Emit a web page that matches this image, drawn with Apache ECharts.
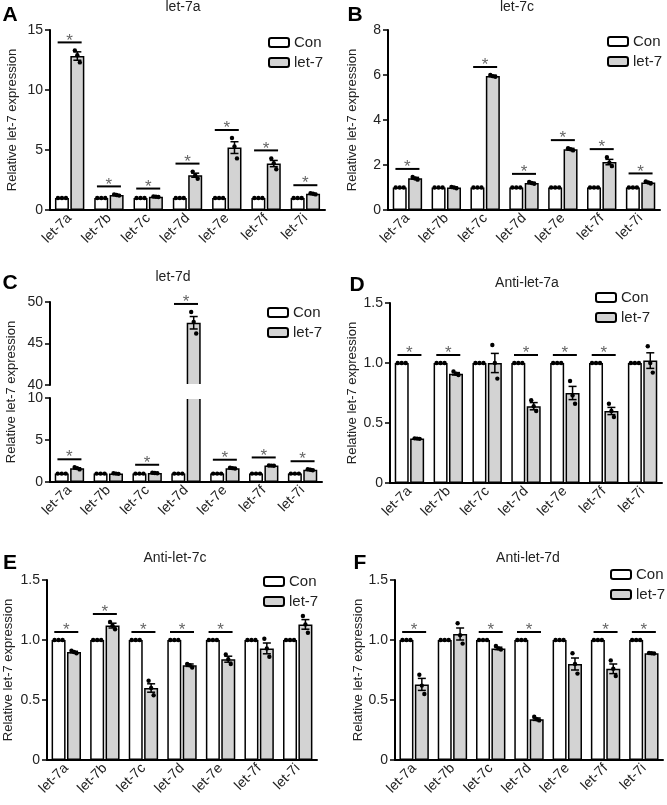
<!DOCTYPE html>
<html>
<head>
<meta charset="utf-8">
<script src="https://cdn.jsdelivr.net/npm/echarts@6/dist/echarts.min.js"></script>
<style>html,body{margin:0;padding:0;background:#fff;}#c{width:667px;height:805px;}</style>
</head>
<body>
<div id="c"></div>
<script>
// ---------- DATA ----------
const categories = ['let-7a','let-7b','let-7c','let-7d','let-7e','let-7f','let-7i'];
const seriesNames = ['Con','let-7'];
const panelTitles = ['let-7a','let-7c','let-7d','Anti-let-7a','Anti-let-7c','Anti-let-7d'];
const panelLetters = ['A','B','C','D','E','F'];
const yAxisName = 'Relative let-7 expression';

const conMean = [1,1,1,1,1,1,1];
const conPts = [[1,1,1],[1,1,1],[1,1,1],[1,1,1],[1,1,1],[1,1,1],[1,1,1]];

// Panel A
const aMean = [12.83,1.25,1.10,2.90,5.20,3.87,1.35];
const aErr  = [0.35,0.03,0.01,0.17,0.49,0.26,0.03];
const aPts  = [[13.3,12.9,12.3],[1.3,1.25,1.2],[1.12,1.1,1.08],[3.2,2.9,2.6],[6.0,5.3,4.3],[4.3,3.9,3.4],[1.4,1.35,1.3]];
const aSig  = [1,1,1,1,1,1,1];
const aTicks = [0,5,10,15];
// Panel B
const bMean = [1.41,1.00,5.96,1.20,2.70,2.13,1.22];
const bErr  = [0.04,0.02,0.03,0.03,0.04,0.12,0.03];
const bPts  = [[1.47,1.4,1.35],[1.02,1.0,0.97],[6.0,5.95,5.92],[1.25,1.2,1.17],[2.75,2.7,2.65],[2.35,2.1,1.95],[1.27,1.22,1.18]];
const bSig  = [1,0,1,1,1,1,1];
const bTicks = [0,2,4,6,8];
// Panel C (broken axis)
const cMean = [1.63,1.00,1.07,47.5,1.65,1.95,1.46];
const cErr  = [0.07,0.02,0.02,0.75,0.03,0.01,0.04];
const cPts  = [[1.75,1.65,1.5],[1.05,1.0,0.97],[1.1,1.07,1.05],[48.8,47.6,46.2],[1.7,1.65,1.6],[1.97,1.95,1.93],[1.52,1.45,1.4]];
const cSig  = [1,0,1,1,1,1,1];
const cTicksLow = [0,5,10];
const cTicksHigh = [40,45,50];
// Panel D
const dMean = [0.37,0.91,1.00,0.64,0.75,0.60,1.02];
const dErr  = [0.003,0.01,0.08,0.03,0.055,0.03,0.065];
const dPts  = [[0.372,0.37,0.368],[0.93,0.91,0.9],[1.15,1.0,0.87],[0.69,0.64,0.6],[0.85,0.73,0.66],[0.66,0.6,0.55],[1.14,1.0,0.92]];
const dSig  = [1,1,0,1,1,1,0];
const dTicks = [0,0.5,1.0,1.5];
// Panel E
const eMean = [0.90,1.12,0.60,0.79,0.84,0.93,1.13];
const eErr  = [0.006,0.02,0.035,0.01,0.025,0.045,0.04];
const ePts  = [[0.91,0.9,0.89],[1.15,1.12,1.09],[0.66,0.6,0.54],[0.8,0.79,0.77],[0.88,0.84,0.8],[1.01,0.93,0.86],[1.2,1.13,1.06]];
const eSig  = [1,1,1,1,1,0,0];
const eTicks = [0,0.5,1.0,1.5];
// Panel F
const fMean = [0.63,1.05,0.93,0.34,0.80,0.76,0.89];
const fErr  = [0.05,0.05,0.01,0.01,0.05,0.04,0.003];
const fPts  = [[0.71,0.62,0.55],[1.14,1.04,0.97],[0.95,0.93,0.92],[0.36,0.34,0.33],[0.89,0.8,0.72],[0.83,0.76,0.7],[0.892,0.89,0.888]];
const fSig  = [1,0,1,1,0,1,1];
const fTicks = [0,0.5,1.0,1.5];

// ---------- LAYOUT / STYLE ----------
const FONT = 'Liberation Sans, Arial, sans-serif';
const TXT = '#222';
const BAR_W = 14;
const BAR_OFF = 7.7;

const layouts = [
  {grid:{left:50,top:30,width:275,height:180}, nameGap:31, legend:{left:268,top:35}, title:[183,7], letter:[10,15]},
  {grid:{left:388,top:30,width:272,height:180}, nameGap:29, legend:{left:607,top:34}, title:[517,7], letter:[355,15]},
  {gridHigh:{left:50,top:302,width:272,height:83}, grid:{left:50,top:398,width:272,height:84}, legend:{left:267,top:305}, title:[173,277], letter:[10,283], nameXY:[11,392]},
  {grid:{left:390,top:303,width:272,height:180}, nameGap:31, legend:{left:595,top:290}, title:[527,283], letter:[357,285]},
  {grid:{left:47,top:580,width:270,height:180}, nameGap:32, legend:{left:263,top:574}, title:[175,558], letter:[10,563]},
  {grid:{left:395,top:580,width:268,height:180}, nameGap:30, legend:{left:610,top:567}, title:[528,558], letter:[360,563]}
];

const panels = [
  {mean:aMean, err:aErr, pts:aPts, sig:aSig, ticks:aTicks},
  {mean:bMean, err:bErr, pts:bPts, sig:bSig, ticks:bTicks},
  {mean:cMean, err:cErr, pts:cPts, sig:cSig, ticks:cTicksLow, ticksHigh:cTicksHigh},
  {mean:dMean, err:dErr, pts:dPts, sig:dSig, ticks:dTicks},
  {mean:eMean, err:eErr, pts:ePts, sig:eSig, ticks:eTicks},
  {mean:fMean, err:fErr, pts:fPts, sig:fSig, ticks:fTicks}
];

function fmtTick(v, ticks){
  const dec = ticks.some(t => Math.abs(t - Math.round(t)) > 1e-9);
  if (v === 0) return '0';
  return dec ? v.toFixed(1) : String(v);
}

function renderOverlay(params, api){
  const cs = params.coordSys;
  const inY = y => y >= cs.y - 0.5 && y <= cs.y + cs.height + 0.5;
  const i = api.value(0);
  const mean = api.value(1), err = api.value(2);
  const pts = [api.value(3), api.value(4), api.value(5)];
  const cpts = [api.value(6), api.value(7), api.value(8)];
  const sig = api.value(9);
  const cx = api.coord([i, 0])[0];
  const xl = cx - BAR_OFF, xr = cx + BAR_OFF;
  const ch = [];
  cpts.forEach((v,k) => {
    const y = api.coord([i, v])[1];
    if (inY(y)) ch.push({type:'circle', shape:{cx:xl + (k-1)*4, cy:y, r:2.2}, style:{fill:'#000'}});
  });
  const yT = api.coord([i, mean+err])[1], yB = api.coord([i, mean-err])[1];
  if (inY(yT) && inY(yB)) {
    ch.push({type:'line', shape:{x1:xr,y1:yT,x2:xr,y2:yB}, style:{stroke:'#000', lineWidth:1.5}});
    ch.push({type:'line', shape:{x1:xr-4,y1:yT,x2:xr+4,y2:yT}, style:{stroke:'#000', lineWidth:1.5}});
    ch.push({type:'line', shape:{x1:xr-4,y1:yB,x2:xr+4,y2:yB}, style:{stroke:'#000', lineWidth:1.5}});
  }
  pts.forEach((v,k) => {
    const y = api.coord([i, v])[1];
    if (inY(y)) ch.push({type:'circle', shape:{cx:xr + (k-1)*2.5, cy:y, r:2.2}, style:{fill:'#000'}});
  });
  if (sig) {
    const top = Math.max(pts[0],pts[1],pts[2],mean+err,cpts[0],cpts[1],cpts[2]);
    const yTop = api.coord([i, top])[1];
    if (inY(yTop)) {
      const y = yTop - 8;
      ch.push({type:'line', shape:{x1:cx-12,y1:y,x2:cx+12,y2:y}, style:{stroke:'#000', lineWidth:2}});
      ch.push({type:'text', x:cx, y:y+7, style:{text:'*', fill:'#666', font:'17px '+FONT, align:'center', verticalAlign:'bottom'}});
    }
  }
  return {type:'group', children:ch};
}

const grid = [], xAxis = [], yAxis = [], series = [], legend = [], graphic = [];

function addPanelGrid(g, ticks, showX, name, nameGap, mean, err, pts, sig, filt){
  const gi = grid.length;
  grid.push(Object.assign({containLabel:false}, g));
  xAxis.push({
    type:'category', gridIndex:gi, data:categories, show:showX,
    axisLine:{lineStyle:{color:'#000', width:2}},
    axisTick:{alignWithLabel:true, length:4, lineStyle:{color:'#000', width:1.5}},
    axisLabel:{rotate:45, color:TXT, fontSize:14, fontFamily:FONT, margin:6, interval:0}
  });
  yAxis.push({
    type:'value', gridIndex:gi, min:ticks[0], max:ticks[ticks.length-1], interval:ticks[1]-ticks[0],
    name:name, nameLocation:'middle', nameGap:nameGap,
    nameTextStyle:{color:TXT, fontSize:13, fontFamily:FONT},
    axisLine:{show:true, lineStyle:{color:'#000', width:2}},
    axisTick:{show:true, length:5, lineStyle:{color:'#000', width:1.5}},
    axisLabel:{color:TXT, fontSize:14, fontFamily:FONT, margin:7, formatter:v => fmtTick(v, ticks)},
    splitLine:{show:false}
  });
  const fv = v => filt(v) ? v : '-';
  series.push({
    name:seriesNames[0], type:'bar', xAxisIndex:gi, yAxisIndex:gi, barWidth:BAR_W, barGap:'10%',
    clip:true, data:conMean.map(fv),
    itemStyle:{color:'#ffffff', borderColor:'#000', borderWidth:1.5}, silent:true
  });
  series.push({
    name:seriesNames[1], type:'bar', xAxisIndex:gi, yAxisIndex:gi, barWidth:BAR_W, barGap:'10%',
    clip:true, data:mean.map(fv),
    itemStyle:{color:'#d3d3d3', borderColor:'#000', borderWidth:1.5}, silent:true
  });
  series.push({
    type:'custom', xAxisIndex:gi, yAxisIndex:gi, clip:false, silent:true, z:5,
    renderItem:renderOverlay,
    data:categories.map((c,i) => [i, mean[i], err[i], pts[i][0], pts[i][1], pts[i][2], conPts[i][0], conPts[i][1], conPts[i][2], sig[i]])
  });
}

panels.forEach((p, k) => {
  const L = layouts[k];
  if (p.ticksHigh) {
    const lo = p.ticksHigh[0];
    addPanelGrid(L.gridHigh, p.ticksHigh, false, '', 0, p.mean, p.err, p.pts, p.sig, v => v >= lo);
    addPanelGrid(L.grid, p.ticks, true, '', 0, p.mean, p.err, p.pts, p.sig, v => true);
    graphic.push({type:'text', x:L.nameXY[0], y:L.nameXY[1], rotation:Math.PI/2,
      style:{text:yAxisName, fill:TXT, font:'13px '+FONT, align:'center', verticalAlign:'middle'}});
    // white gap across the bars at the axis break
    const gh = L.gridHigh, gl = L.grid;
    graphic.push({type:'rect', z:100, shape:{x:gh.left+4, y:gh.top+gh.height-1, width:gh.width, height:gl.top-(gh.top+gh.height)+2},
      style:{fill:'#fff'}});
  } else {
    addPanelGrid(L.grid, p.ticks, true, yAxisName, L.nameGap, p.mean, p.err, p.pts, p.sig, v => true);
  }
  legend.push({
    data:seriesNames, orient:'vertical', left:L.legend.left, top:L.legend.top, padding:0,
    icon:'roundRect', itemWidth:20, itemHeight:9, itemGap:5, selectedMode:false,
    textStyle:{color:TXT, fontSize:15, fontFamily:FONT}
  });
  graphic.push({type:'text', x:L.title[0], y:L.title[1],
    style:{text:panelTitles[k], fill:TXT, font:'14px '+FONT, align:'center', verticalAlign:'middle'}});
  graphic.push({type:'text', x:L.letter[0], y:L.letter[1],
    style:{text:panelLetters[k], fill:'#000', font:'bold 21px '+FONT, align:'center', verticalAlign:'middle'}});
});

const chart = echarts.init(document.getElementById('c'), null, {renderer:'canvas'});
chart.setOption({
  animation:false, backgroundColor:'#fff',
  grid, xAxis, yAxis, series, legend, graphic
});
</script>
</body>
</html>
